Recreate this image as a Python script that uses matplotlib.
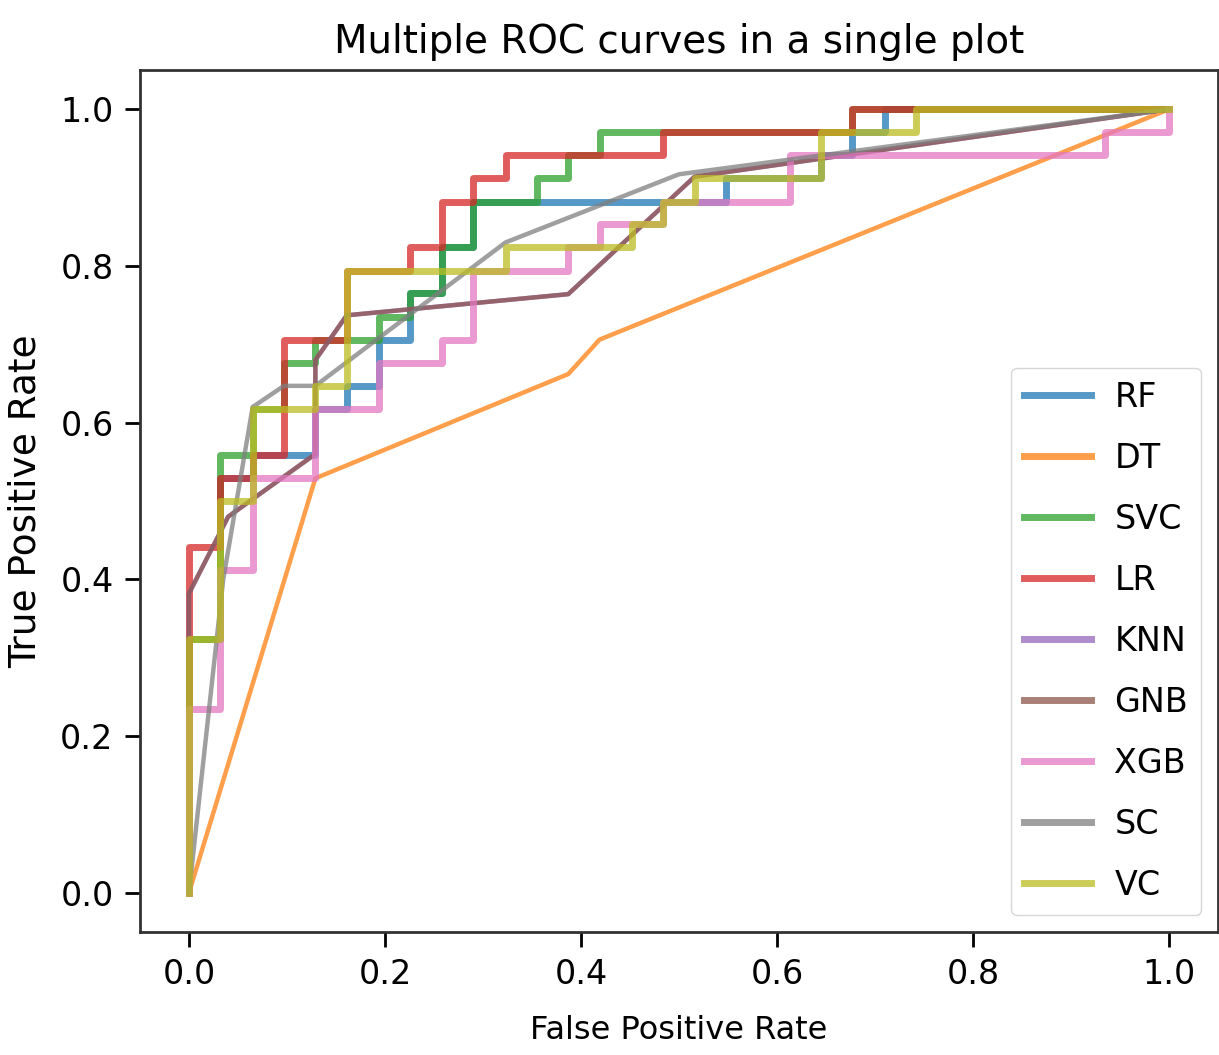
import matplotlib
matplotlib.use("Agg")
import matplotlib.pyplot as plt

# ROC points (fpr, tpr)
labels = ["RF", "DT", "SVC", "LR", "KNN", "GNB", "XGB", "SC", "VC"]

fpr_rf = [0, 0, .032, .032, .065, .065, .129, .129, .161, .161, .194, .194,
          .226, .226, .258, .258, .290, .290, .548, .548, .645, .645, .677,
          .677, .710, .710, 1]
tpr_rf = [0, .324, .324, .529, .529, .559, .559, .618, .618, .647, .647,
          .706, .706, .765, .765, .824, .824, .882, .882, .912, .912, .941,
          .941, .971, .971, 1, 1]

fpr_dt = [0, .129, .387, .419, 1]
tpr_dt = [0, .529, .662, .706, 1]

fpr_svc = [0, 0, .032, .032, .065, .065, .097, .097, .129, .129, .194, .194,
           .226, .226, .258, .258, .290, .290, .355, .355, .387, .387, .419,
           .419, .677, .677, 1]
tpr_svc = [0, .324, .324, .559, .559, .618, .618, .676, .676, .706, .706,
           .735, .735, .765, .765, .824, .824, .882, .882, .912, .912, .941,
           .941, .971, .971, 1, 1]

fpr_lr = [0, 0, .032, .032, .065, .065, .097, .097, .161, .161, .226, .226,
          .258, .258, .290, .290, .323, .323, .484, .484, .677, .677, 1]
tpr_lr = [0, .441, .441, .529, .529, .559, .559, .706, .706, .794, .794,
          .824, .824, .882, .882, .912, .912, .941, .941, .971, .971, 1, 1]

fpr_knn = [0, 0, .04, .129, .129, .161, .387, .516, 1]
tpr_knn = [0, .382, .48, .56, .68, .737, .764, .914, 1]

fpr_gnb = [0, 0, .04, .129, .129, .161, .387, .516, 1]
tpr_gnb = [0, .382, .48, .56, .68, .737, .764, .914, 1]

fpr_xgb = [0, 0, .032, .032, .065, .065, .129, .129, .194, .194, .258, .258,
           .290, .290, .387, .387, .419, .419, .484, .484, .613, .613, .935,
           .935, 1, 1]
tpr_xgb = [0, .235, .235, .412, .412, .529, .529, .618, .618, .676, .676,
           .706, .706, .794, .794, .824, .824, .853, .853, .882, .882, .941,
           .941, .971, .971, 1]

fpr_sc = [0, .035, .065, .097, .129, .323, .5, 1]
tpr_sc = [0, .40, .62, .647, .647, .83, .917, 1]

fpr_vc = [0, 0, .032, .032, .065, .065, .129, .129, .161, .161, .323, .323,
          .452, .452, .484, .484, .516, .516, .645, .645, .742, .742, 1]
tpr_vc = [0, .324, .324, .5, .5, .618, .618, .647, .647, .794, .794, .824,
          .824, .853, .853, .882, .882, .912, .912, .971, .971, 1, 1]

curves = [(fpr_rf, tpr_rf), (fpr_dt, tpr_dt), (fpr_svc, tpr_svc),
          (fpr_lr, tpr_lr), (fpr_knn, tpr_knn), (fpr_gnb, tpr_gnb),
          (fpr_xgb, tpr_xgb), (fpr_sc, tpr_sc), (fpr_vc, tpr_vc)]
# the sloped curves look thinner in the reference
thin = {"DT", "KNN", "GNB", "SC"}
ticks = [0.0, 0.2, 0.4, 0.6, 0.8, 1.0]


def main():
    fig = plt.figure(figsize=(12.19, 10.55), dpi=100)
    ax = fig.add_axes([0.1148, 0.1166, 0.8844, 0.817])

    for (fpr, tpr), name in zip(curves, labels):
        lw = 3.2 if name in thin else 5
        ax.plot(fpr, tpr, lw=lw, alpha=0.75, label=name)

    ax.set_xlim(-0.05, 1.05)
    ax.set_ylim(-0.05, 1.05)
    ax.set_xticks(ticks)
    ax.set_yticks(ticks)
    ax.tick_params(labelsize=24, length=11, width=2, pad=8)
    for sp in ax.spines.values():
        sp.set_linewidth(2)
        sp.set_color("#333333")

    ax.set_title("Multiple ROC curves in a single plot", fontsize=28, pad=12)
    ax.set_xlabel("False Positive Rate", fontsize=23, labelpad=17)
    ax.set_ylabel("True Positive Rate", fontsize=27, labelpad=12)
    leg = ax.legend(loc="lower right", fontsize=24, labelspacing=0.84,
                    handlelength=2.0, handletextpad=0.7)
    for h in leg.get_lines():
        h.set_linewidth(5)

    fig.savefig("out.png", dpi=100)


if __name__ == "__main__":
    main()
